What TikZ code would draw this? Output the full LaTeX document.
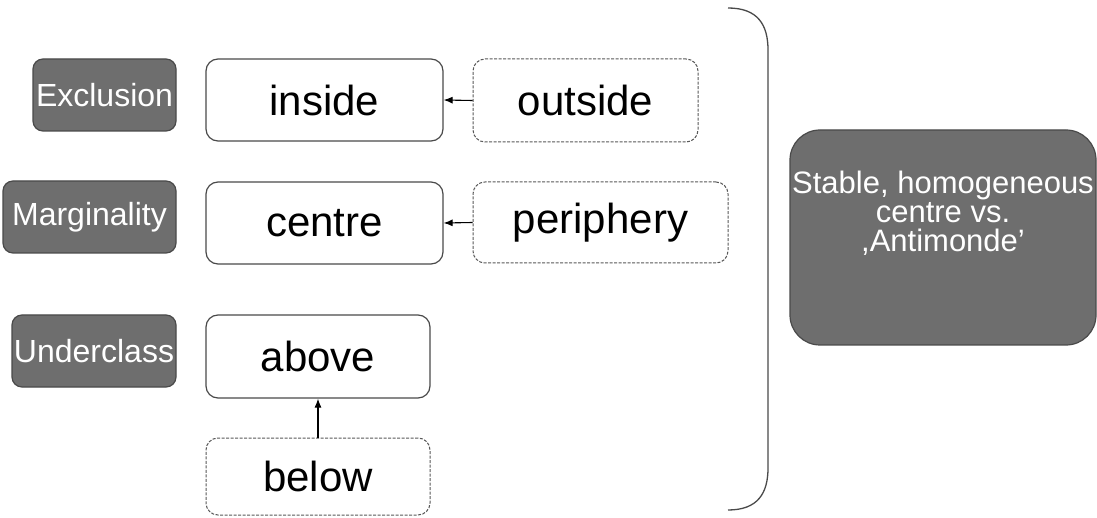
\documentclass[tikz,border=0pt]{standalone}
\usepackage{fontspec}
\setmainfont{Liberation Sans}
\usetikzlibrary{arrows.meta}
\definecolor{boxgray}{HTML}{6E6E6E}
\definecolor{linegray}{HTML}{4A4A4A}
\tikzset{
  lab/.style={draw=linegray, line width=1.2pt, fill=boxgray, rounded corners=10pt, inner sep=0pt,
    text=white, font=\fontsize{32}{34}\selectfont, minimum height=72pt},
  term/.style={draw=linegray, line width=1.2pt, fill=white, rounded corners=12pt, inner sep=0pt,
    font=\fontsize{42}{46}\selectfont, minimum height=82pt},
  dterm/.style={term, draw=gray!70!black, line width=1pt, dash pattern=on 3pt off 1.5pt},
  arr/.style={-{Latex[length=9pt,width=7pt]}, line width=1.1pt, black},
}
\begin{document}
\begin{tikzpicture}[x=1pt,y=-1pt]
\useasboundingbox (0,0) rectangle (1097,518);
\fill[white] (0,0) rectangle (1097,518);
% left labels
\node[lab, minimum width=143pt] (excl) at (104.5,95) {Exclusion};
\node[lab, minimum width=173pt] (marg) at (89.5,217) {Marginality};
\node[lab, minimum width=164pt] (under) at (94,351) {Underclass};
% terms
\node[term, minimum width=237pt] (inside) at (324.5,100) {inside};
\node[dterm, minimum width=225pt, minimum height=83pt] (outside) at (585.5,100.5) {outside};
\node[term, minimum width=237pt] (centre) at (324.5,223) {centre};
\node[dterm, minimum width=255pt, minimum height=81pt] (periph) at (600.5,222.5) {periphery};
\node[term, minimum width=224pt, minimum height=83pt] (above) at (318,356.5) {above};
\node[dterm, minimum width=224pt, minimum height=77pt] (below) at (318,476.5) {below};
% arrows
\draw[arr] (outside.west) -- (inside.east);
\draw[arr] (periph.west) -- (centre.east);
\draw[arr] (below.north) -- (above.south);
% bracket
\coordinate (bt) at (728,8);
\coordinate (bb) at (728,510);
\draw[linegray, line width=1.3pt] (bt) .. controls (758,8) and (768,25) .. (768,50)
  -- (768,468) .. controls (768,493) and (758,510) .. (bb);
% right box
\node[draw=linegray, line width=1.2pt, fill=boxgray, rounded corners=30pt,
  minimum width=306pt, minimum height=215pt, inner sep=0pt] (stable) at (943,237.5) {};
\node[text=white, align=center, font=\fontsize{31}{29}\selectfont, inner sep=0pt]
  (stabletext) at (943,213) {Stable, homogeneous\\centre vs.\\,Antimonde'};
\end{tikzpicture}
\end{document}
